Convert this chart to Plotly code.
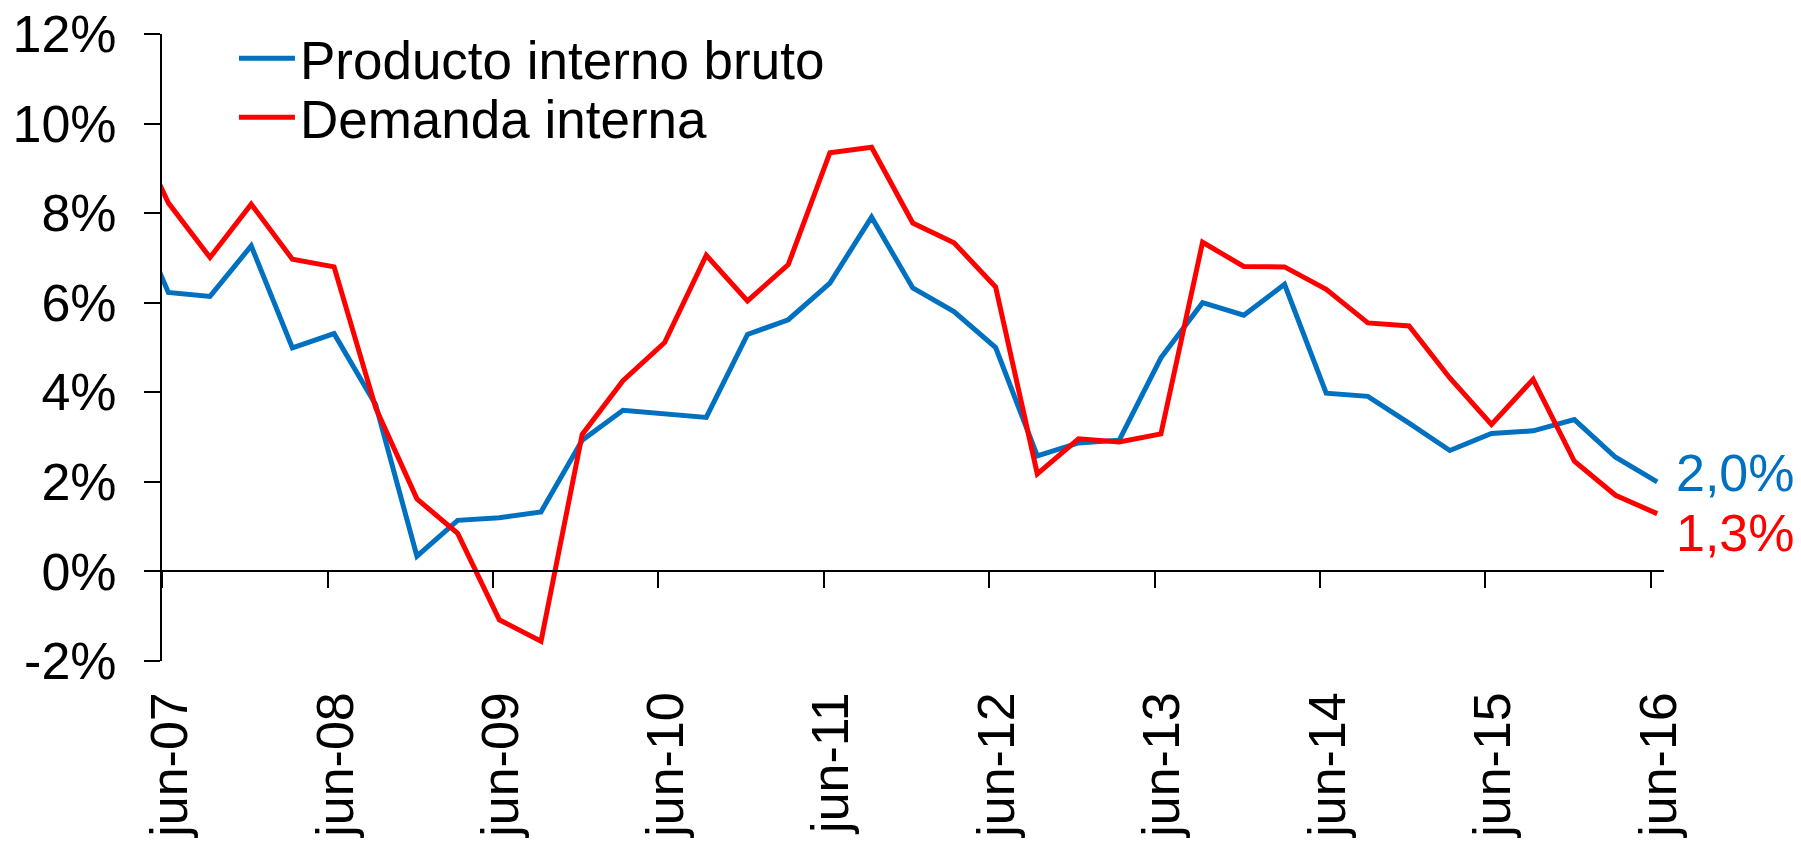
import plotly.graph_objects as go

# Quarterly dates (mid-month of each quarter-end month)
dates = [f"{y}-{m:02d}-15" for y in range(2007, 2017) for m in (3, 6, 9, 12)]
dates = dates[:38]  # mar-07 .. jun-16

pib = [8.4, 6.23, 6.14, 7.27, 4.99, 5.31, 3.72, 0.34, 1.14, 1.2, 1.33, 2.93, 3.6,
       3.52, 3.44, 5.29, 5.62, 6.44, 7.91, 6.33, 5.8, 5.0, 2.58, 2.87, 2.93, 4.77,
       6.0, 5.72, 6.41, 3.98, 3.91, 3.31, 2.7, 3.08, 3.14, 3.39, 2.55, 2.0]
demanda = [10.2, 8.23, 7.01, 8.2, 6.97, 6.8, 3.65, 1.62, 0.85, -1.08, -1.56, 3.06,
           4.26, 5.11, 7.06, 6.04, 6.85, 9.35, 9.47, 7.78, 7.34, 6.35, 2.18, 2.96,
           2.89, 3.07, 7.35, 6.81, 6.8, 6.3, 5.55, 5.48, 4.32, 3.28, 4.29, 2.46,
           1.7, 1.29]

series_names = ["Producto interno bruto", "Demanda interna"]
colors = ["#0070C0", "#FF0000"]

x_tickvals = [f"{y}-06-01" for y in range(2007, 2017)]
x_ticktext = [f"jun-{y % 100:02d}" for y in range(2007, 2017)]
y_tickvals = [-2, 0, 2, 4, 6, 8, 10, 12]
y_ticktext = ["-2%", "0%", "2%", "4%", "6%", "8%", "10%", "12%"]

FONT = "Liberation Sans, Arial, sans-serif"
FS = 52
FS_LEG = 53

fig = go.Figure()
fig.add_trace(go.Scatter(x=dates, y=pib, mode="lines", name=series_names[0],
                         line=dict(color=colors[0], width=5), legend="legend"))
fig.add_trace(go.Scatter(x=dates, y=demanda, mode="lines", name=series_names[1],
                         line=dict(color=colors[1], width=5), legend="legend2"))

ymin, ymax = -2, 12
zero_pos = (0 - ymin) / (ymax - ymin)

fig.update_layout(
    width=1801, height=843,
    margin=dict(l=162, r=137, t=34, b=182, autoexpand=False),
    paper_bgcolor="white", plot_bgcolor="white",
    font=dict(family=FONT, size=FS, color="black"),
    xaxis=dict(
        type="date", range=["2007-06-01", "2016-06-30"],
        tickvals=x_tickvals, ticktext=x_ticktext, tickangle=-90,
        anchor="free", position=zero_pos, automargin=False,
        showline=True, linecolor="black", linewidth=2,
        ticks="outside", ticklen=16, tickwidth=2, tickcolor="black",
        showgrid=False, zeroline=False,
        ticklabelstandoff=83, ticklabelshift=8,
        tickfont=dict(family=FONT, size=FS, color="black"),
    ),
    yaxis=dict(
        range=[ymin, ymax], tickvals=y_tickvals, ticktext=y_ticktext,
        automargin=False,
        showline=True, linecolor="black", linewidth=2,
        ticks="outside", ticklen=16, tickwidth=2, tickcolor="black",
        showgrid=False, zeroline=False, ticklabelstandoff=17,
        tickfont=dict(family=FONT, size=FS, color="black"),
    ),
    legend=dict(x=0.0479, y=0.9612, xanchor="left", yanchor="middle",
                bgcolor="rgba(0,0,0,0)", itemwidth=56,
                font=dict(family=FONT, size=FS_LEG, color="black")),
    legend2=dict(x=0.0479, y=0.8673, xanchor="left", yanchor="middle",
                 bgcolor="rgba(0,0,0,0)", itemwidth=56,
                 font=dict(family=FONT, size=FS_LEG, color="black")),
    showlegend=True,
)

def pct(v):
    return f"{v:.1f}%".replace(".", ",")

fig.add_annotation(x=dates[-1], y=pib[-1], text=pct(pib[-1]), showarrow=False,
                   xanchor="left", yanchor="middle", xshift=17, yshift=9,
                   font=dict(family=FONT, size=FS, color=colors[0]))
fig.add_annotation(x=dates[-1], y=demanda[-1], text=pct(demanda[-1]), showarrow=False,
                   xanchor="left", yanchor="middle", xshift=17, yshift=-19,
                   font=dict(family=FONT, size=FS, color=colors[1]))

fig.write_html("out.html", config={"displayModeBar": False},
               post_script="document.body.style.margin='0px';")
